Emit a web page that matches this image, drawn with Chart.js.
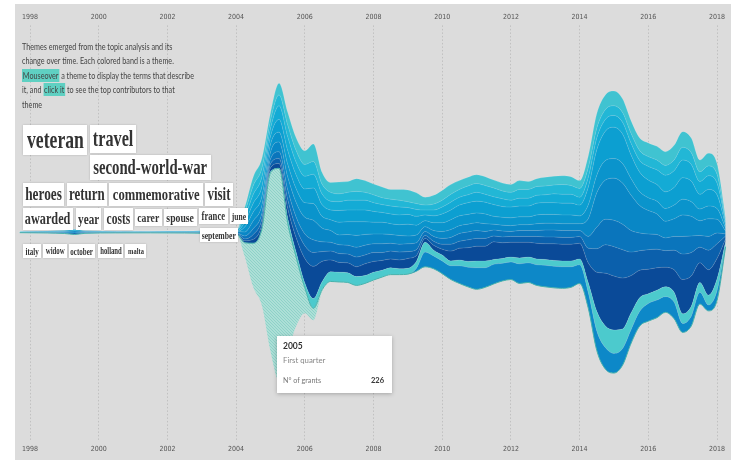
<!DOCTYPE html>
<html lang="en">
<head>
<meta charset="UTF-8">
<title>Themes over time</title>
<script src="https://cdn.jsdelivr.net/npm/chart.js@4.4.1/dist/chart.umd.min.js"></script>
<style>
  body { margin:0; background:#fff; width:731px; height:460px; overflow:hidden; position:relative; font-family:Lato, sans-serif; }
  #panel { position:absolute; left:15px; top:4px; width:716px; height:456px; background:#dcdcdc; }
  #panel canvas { position:absolute; left:0; top:0; }
  .intro { position:absolute; left:7px; top:36px; font-size:8.7px; line-height:14.4px; color:#444; transform:scaleX(0.83); transform-origin:left top; white-space:nowrap; }
  .hl { background:#5fd0c2; padding:1px 1px; }
  .w { position:absolute; background:#fff; box-shadow:0 0 2px rgba(0,0,0,.2); font-family:'Liberation Serif', serif; font-weight:bold; color:#333;
       display:flex; align-items:center; justify-content:center; white-space:nowrap; }
  .w span { display:inline-block; transform:scaleX(.72); }
  .tip { position:absolute; left:262px; top:332px; width:115px; height:57px; background:#fff; box-shadow:0 1px 4px rgba(0,0,0,.25); font-family:Lato, sans-serif; }
  .tip div { position:absolute; left:6px; white-space:nowrap; }
</style>
</head>
<body>
<div id="panel">
  <canvas id="stream" width="716" height="456"></canvas>

  <div class="intro">
    Themes emerged from the topic analysis and its<br>
    change over time. Each colored band is a theme.<br>
    <span class="hl">Mouseover</span> a theme to display the terms that describe<br>
    it, and <span class="hl">click it</span> to see the top contributors to that<br>
    theme
  </div>

  <!-- terms of the selected theme -->
  <div class="w" style="left:8px;top:121px;width:64px;height:30px;font-size:24.5px"><span>veteran</span></div>
  <div class="w" style="left:75px;top:121px;width:46px;height:28px;font-size:22.5px"><span>travel</span></div>
  <div class="w" style="left:75px;top:151px;width:121px;height:25px;font-size:20.5px"><span>second-world-war</span></div>
  <div class="w" style="left:8px;top:179px;width:41px;height:23px;font-size:18.5px"><span>heroes</span></div>
  <div class="w" style="left:52px;top:179px;width:40px;height:23px;font-size:18px"><span>return</span></div>
  <div class="w" style="left:94px;top:179px;width:94px;height:23px;font-size:17.5px"><span>commemorative</span></div>
  <div class="w" style="left:190px;top:179px;width:28px;height:23px;font-size:18px"><span>visit</span></div>
  <div class="w" style="left:8px;top:204px;width:50px;height:22px;font-size:17px"><span>awarded</span></div>
  <div class="w" style="left:61px;top:204px;width:25px;height:22px;font-size:15.5px"><span>year</span></div>
  <div class="w" style="left:89px;top:204px;width:29px;height:22px;font-size:16px"><span>costs</span></div>
  <div class="w" style="left:120px;top:205px;width:27px;height:17px;font-size:13.5px"><span>carer</span></div>
  <div class="w" style="left:149px;top:205px;width:33px;height:17px;font-size:13.5px"><span>spouse</span></div>
  <div class="w" style="left:184px;top:204px;width:29px;height:16px;font-size:12px"><span>france</span></div>
  <div class="w" style="left:215px;top:204px;width:18px;height:16px;font-size:10.5px"><span>june</span></div>
  <div class="w" style="left:185px;top:224px;width:38px;height:14px;font-size:10.7px"><span>september</span></div>
  <div class="w" style="left:8px;top:240px;width:18px;height:14px;font-size:9.7px"><span>italy</span></div>
  <div class="w" style="left:28px;top:240px;width:24px;height:14px;font-size:9.5px"><span>widow</span></div>
  <div class="w" style="left:54px;top:240px;width:26px;height:14px;font-size:9.7px"><span>october</span></div>
  <div class="w" style="left:83px;top:240px;width:25px;height:14px;font-size:9.3px"><span>holland</span></div>
  <div class="w" style="left:110px;top:240px;width:21px;height:14px;font-size:9px"><span>malta</span></div>

  <div class="tip">
    <div style="top:5px;font-size:8.5px;color:#333;font-weight:bold">2005</div>
    <div style="top:19px;font-size:7.8px;color:#888">First quarter</div>
    <div style="top:40px;font-size:7.2px;color:#777">N° of grants</div>
    <div style="top:40px;left:auto;right:8px;font-size:7.5px;color:#333;font-weight:bold">226</div>
  </div>
</div>

<script>
  // Eixo do tempo (anos, depois trimestres a partir de 2004)
  const YEARS = [1997.7, 1998.5, 1999, 1999.3, 1999.6, 2000.5, 2001.5, 2002.5, 2003, 2003.5,
    2004, 2004.25, 2004.5, 2004.75, 2005, 2005.25, 2005.5, 2005.75, 2006, 2006.25, 2006.5, 2006.75,
    2007, 2007.25, 2007.5, 2007.75, 2008, 2008.25, 2008.5, 2008.75, 2009, 2009.25, 2009.5, 2009.75,
    2010, 2010.25, 2010.5, 2010.75, 2011, 2011.25, 2011.5, 2011.75, 2012, 2012.25, 2012.5, 2012.75,
    2013, 2013.25, 2013.5, 2013.75, 2014, 2014.25, 2014.5, 2014.75, 2015, 2015.25, 2015.5, 2015.75,
    2016, 2016.25, 2016.5, 2016.75, 2017, 2017.25, 2017.5, 2017.75, 2018, 2018.25];

  const TICK_YEARS = [1998, 2000, 2002, 2004, 2006, 2008, 2010, 2012, 2014, 2016, 2018];

  // N° of grants per theme (bottom band first)
  const selectedTheme = [0,0,0,0,0,0,0,0,0,0,
    0,14,45,78,182,217,132,70,26,12,2,0,
    0,0,0,0,0,0,0,0,0,0,0,0,
    0,0,0,0,0,0,0,0,0,0,0,0,
    0,0,0,0,0,0,0,0,0,0,0,0,
    0,0,0,0,0,0,0,0,0,0];
  const theme1 = [0,0,0,0,0,0,0,0,0,0,
    0,0,0,0,0,0,0,0,0,0,0,0,
    0,0,0,0,0,0,0,0,0,3,15,13,
    13,14,18,20,22,20,20,18,18,20,20,21,
    22,22,22,21,19,16,20,22,20,17,14,15,
    18,18,16,17,9,10,12,6,10,2];
  const theme2 = [0,0,0,0,0,0,0,0,0,0,
    0,0,0,0,1,0,5,5,5,10,8,10,
    10,10,9,8,8,7,7,6,6,7,10,6,
    6,5,6,6,7,7,5,5,5,6,6,6,
    6,6,6,6,6,10,20,22,24,20,17,14,
    10,10,10,10,10,10,10,10,12,3];
  const theme3 = [0,0,0,0,0,0,0,0,0,0,
    0,2,4,5,4,5,10,15,25,33,21,12,
    10,10,10,12,11,10,9,9,10,6,4,5,
    6,10,12,14,15,15,18,16,15,16,15,16,
    16,17,17,17,16,20,40,54,55,52,38,28,
    25,23,20,23,35,31,20,26,21,3];
  const theme4 = [0.3,0.5,0.8,1.5,0.8,0.5,0.5,0.6,0.7,1,
    1,2,5,5,4,5,9,10,13,14,10,9,
    9,9,10,9,9,8,8,8,7,6,3,4,
    5,7,7,8,8,8,6,6,6,6,6,7,
    7,7,7,7,7,15,24,29,30,29,24,20,
    20,19,17,20,26,24,16,20,15,3];
  const theme5 = [0,0,0,0,0,0,0,0,0,0,
    0,3,6,6,5,7,10,11,12,13,10,9,
    9,9,10,10,9,9,8,8,8,7,4,5,
    6,7,8,8,8,7,6,6,5,6,6,6,
    7,7,7,7,6,12,22,26,27,26,22,18,
    16,15,13,14,18,17,12,14,11,2];
  const theme6 = [0.4,0.7,1.2,2,1,0.7,0.6,0.7,0.8,1.2,
    1,4,8,8,7,10,13,15,17,20,14,12,
    10,11,12,11,10,10,9,9,8,8,5,6,
    7,8,8,8,8,8,6,6,6,6,6,7,
    7,7,7,7,7,18,35,40,43,42,36,28,
    24,21,17,18,22,20,15,18,14,3];
  const theme7 = [0,0,0,0,0,0,0,0,0,0,
    0,5,9,9,8,10,13,14,15,17,12,11,
    13,13,14,13,12,12,11,11,12,10,6,8,
    9,10,10,10,10,10,8,8,8,8,8,9,
    9,9,9,9,8,14,18,20,20,20,17,14,
    13,13,13,14,16,15,12,13,11,3];
  const theme8 = [0,0,0,0,0,0,0,0,0,0,
    0,5,9,10,8,13,14,14,14,16,12,10,
    12,12,12,12,11,10,10,10,10,9,6,7,
    9,10,11,12,12,12,12,11,11,11,11,12,
    12,12,12,12,11,18,26,30,32,30,24,20,
    18,17,17,18,22,21,15,17,14,3];
  const theme9 = [0.6,0.8,1,1.5,0.8,0.6,0.6,0.7,1,1.2,
    1,5,9,10,8,14,14,13,13,14,11,9,
    9,10,10,10,9,8,8,8,7,7,5,6,
    7,8,8,8,9,8,8,8,7,8,8,8,
    8,9,9,9,8,10,12,12,12,12,12,12,
    14,15,17,17,18,17,13,14,12,3];
  const theme10 = [0,0,0,0,0,0,0,0,0,0,
    0,5,9,9,8,11,12,12,12,13,10,9,
    8,8,9,8,8,7,7,7,6,6,5,6,
    7,8,8,9,9,9,9,8,8,9,9,9,
    9,9,10,9,9,10,10,10,10,10,10,10,
    10,10,10,11,13,12,10,10,9,2];
  const theme11 = [0,0,0,0,0,0,0,0,0,0,
    0,5,9,10,8,12,13,13,14,18,12,10,
    12,11,13,12,11,11,10,11,12,11,8,9,
    10,10,9,9,9,9,8,8,8,9,8,8,
    9,9,9,9,8,12,15,15,15,14,13,13,
    14,14,14,15,16,15,12,13,11,3];

  const themes = [selectedTheme, theme1, theme2, theme3, theme4, theme5, theme6, theme7, theme8, theme9, theme10, theme11];
  const colors = ['#a9ded5', '#0d88c8', '#4ccacd', '#0a4a98', '#0b60ac', '#0a75bc', '#0987c6',
                  '#0a94cc', '#0c9fd1', '#14abd5', '#22b7d6', '#40c3d1'];

  // hachura do tema selecionado
  function hatch() {
    const c = document.createElement('canvas');
    c.width = 3; c.height = 3;
    const g = c.getContext('2d');
    g.fillStyle = '#addfd7';
    g.fillRect(0, 0, 3, 3);
    g.strokeStyle = '#86cec4';
    g.lineWidth = 0.8;
    g.beginPath();
    g.moveTo(0, 0); g.lineTo(3, 3);
    g.moveTo(-1, 2); g.lineTo(1, 4);
    g.moveTo(2, -1); g.lineTo(4, 1);
    g.stroke();
    return g.createPattern(c, 'repeat');
  }

  // baseline da "silhouette": metade do total para baixo do centro
  const totals = YEARS.map((_, i) => themes.reduce((s, t) => s + t[i], 0));
  const baseline = totals.map(t => -t / 2);

  const datasets = [{
    label: 'base',
    data: YEARS.map((x, i) => ({x: x, y: baseline[i]})),
    borderWidth: 0,
    pointRadius: 0,
    fill: false,
    cubicInterpolationMode: 'monotone'
  }];

  themes.forEach((t, k) => {
    datasets.push({
      label: 'theme ' + k,
      data: YEARS.map((x, i) => ({x: x, y: t[i]})),
      backgroundColor: k === 0 ? hatch() : colors[k],
      borderColor: k === 0 ? '#45b1ab' : 'rgba(255,255,255,0.22)',
      borderWidth: k === 0 ? 1 : 0.6,
      pointRadius: 0,
      fill: '-1',
      cubicInterpolationMode: 'monotone'
    });
  });

  const tickFont = {family: "'Liberation Sans Narrow', 'DejaVu Sans Condensed', 'Liberation Sans', sans-serif", size: 7};
  const setTicks = axis => { axis.ticks = TICK_YEARS.map(v => ({value: v})); };

  new Chart(document.getElementById('stream').getContext('2d'), {
    type: 'line',
    data: {datasets: datasets},
    options: {
      responsive: false,
      animation: false,
      layout: {padding: {top: 5, bottom: 3, left: 0, right: 0}},
      plugins: {legend: {display: false}, tooltip: {enabled: false}},
      scales: {
        x: {
          type: 'linear', position: 'bottom',
          min: 1997.563, max: 2018.407,
          afterBuildTicks: setTicks,
          ticks: {font: tickFont, color: '#555', padding: 4, maxRotation: 0, autoSkip: false, callback: v => String(v)},
          grid: {color: '#b9b9b9', borderDash: [1.5, 2], drawTicks: false, lineWidth: 0.8},
          border: {display: false, dash: [1.5, 2]}
        },
        xTop: {
          type: 'linear', position: 'top',
          min: 1997.563, max: 2018.407,
          afterBuildTicks: setTicks,
          ticks: {font: tickFont, color: '#555', padding: 4, maxRotation: 0, autoSkip: false, callback: v => String(v)},
          grid: {display: false, drawTicks: false},
          border: {display: false}
        },
        y: {
          display: false,
          stacked: 'single',
          min: -213, max: 211
        }
      }
    }
  });
</script>
</body>
</html>
